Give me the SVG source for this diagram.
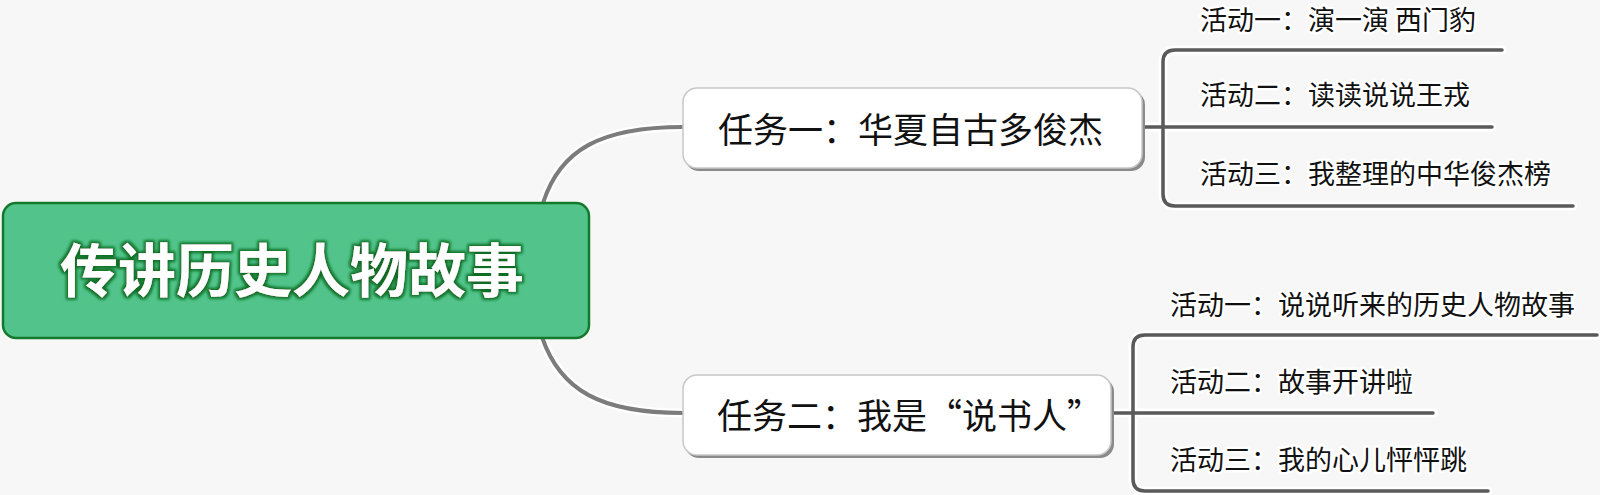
<svg xmlns="http://www.w3.org/2000/svg" width="1600" height="495" viewBox="0 0 1600 495">
  <defs>
    <style>
      .halo { fill: none; stroke: #ffffff; stroke-width: 9; stroke-linecap: round; stroke-linejoin: round; }
      .curve { fill: none; stroke: #7c7c7c; stroke-width: 4; stroke-linecap: round; }
      .branch { fill: none; stroke: #5a5a5a; stroke-width: 3.5; stroke-linecap: round; stroke-linejoin: round; }
      .box { fill: #ffffff; stroke: #c8c8c8; stroke-width: 1.5; }
      .shadow { fill: #8a8a8a; }
      .task { font-family: "Noto Sans CJK SC", "Noto Sans", sans-serif; font-size: 35px; fill: #111111; dominant-baseline: central; }
      .act { font-family: "Noto Sans CJK SC", "Noto Sans", sans-serif; font-size: 27px; fill: #111111; dominant-baseline: central; paint-order: stroke; stroke: #ffffff; stroke-width: 5; stroke-linejoin: round; }
      .root-text { font-family: "Noto Sans CJK SC", "Noto Sans", sans-serif; font-size: 58px; font-weight: bold; fill: #ffffff; dominant-baseline: central; text-anchor: middle; }
    </style>
    <filter id="glow" x="-10%" y="-30%" width="120%" height="160%">
      <feMorphology in="SourceAlpha" operator="dilate" radius="2" result="d"/>
      <feGaussianBlur in="d" stdDeviation="1.5" result="b"/>
      <feFlood flood-color="#0b6e22"/>
      <feComposite in2="b" operator="in" result="g"/>
      <feMerge>
        <feMergeNode in="g"/>
        <feMergeNode in="SourceGraphic"/>
      </feMerge>
    </filter>
  </defs>

  <rect x="0" y="0" width="1600" height="495" fill="#f7f7f7"/>

  <g id="connectors">
    <path class="halo" d="M 543 203 C 560 150, 600 127, 683 127"/>
    <path class="curve" d="M 543 203 C 560 150, 600 127, 683 127"/>
    <path class="halo" d="M 542 337 C 560 390, 600 413, 683 413"/>
    <path class="curve" d="M 542 337 C 560 390, 600 413, 683 413"/>

    <path class="halo" d="M 1502 50 L 1175 50 Q 1163 50 1163 62 L 1163 194 Q 1163 206 1175 206 L 1573 206 M 1143 127 L 1492 127"/>
    <path class="branch" d="M 1502 50 L 1175 50 Q 1163 50 1163 62 L 1163 194 Q 1163 206 1175 206 L 1573 206"/>
    <path class="branch" d="M 1143 127 L 1492 127"/>

    <path class="halo" d="M 1597 335 L 1145 335 Q 1133 335 1133 347 L 1133 479 Q 1133 491 1145 491 L 1488 491 M 1112 413 L 1433 413"/>
    <path class="branch" d="M 1597 335 L 1145 335 Q 1133 335 1133 347 L 1133 479 Q 1133 491 1145 491 L 1488 491"/>
    <path class="branch" d="M 1112 413 L 1433 413"/>
  </g>

  <g id="root">
    <rect x="3" y="203" width="586" height="135" rx="13" ry="13" fill="#52c48b" stroke="#137a2c" stroke-width="2.5"/>
    <text class="root-text" x="292" y="267" filter="url(#glow)">传讲历史人物故事</text>
  </g>

  <g id="task1">
    <rect class="shadow" x="685" y="91" width="460" height="80" rx="14" ry="14"/>
    <rect class="box" x="683" y="88" width="459" height="80" rx="14" ry="14"/>
    <text class="task" x="718" y="127">任务一：华夏自古多俊杰</text>
  </g>

  <g id="task2">
    <rect class="shadow" x="685" y="378" width="429" height="80" rx="14" ry="14"/>
    <rect class="box" x="683" y="375" width="428" height="80" rx="14" ry="14"/>
    <text class="task" x="717" y="413">任务二：我是“说书人”</text>
  </g>

  <g id="act1-1"><text class="act" x="1200" y="18">活动一：演一演 西门豹</text></g>
  <g id="act1-2"><text class="act" x="1200" y="93">活动二：读读说说王戎</text></g>
  <g id="act1-3"><text class="act" x="1200" y="172">活动三：我整理的中华俊杰榜</text></g>

  <g id="act2-1"><text class="act" x="1170" y="303">活动一：说说听来的历史人物故事</text></g>
  <g id="act2-2"><text class="act" x="1170" y="380">活动二：故事开讲啦</text></g>
  <g id="act2-3"><text class="act" x="1170" y="458">活动三：我的心儿怦怦跳</text></g>
</svg>
